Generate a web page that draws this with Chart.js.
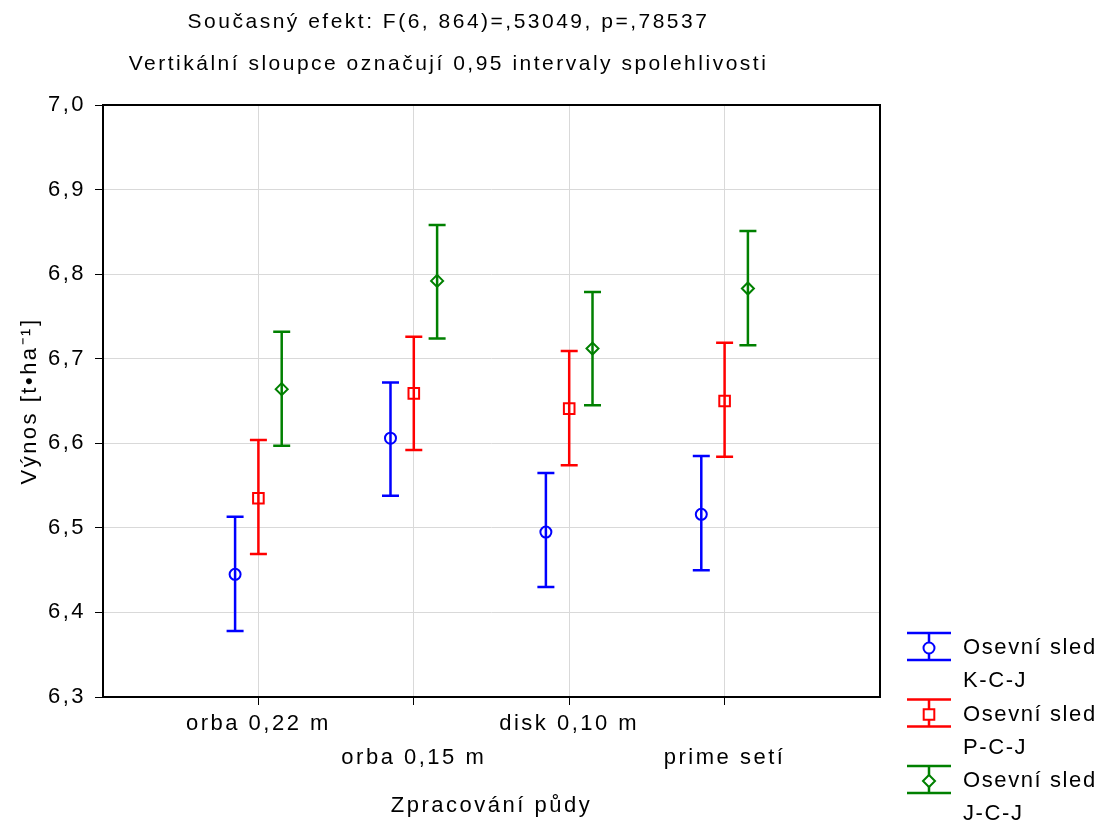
<!DOCTYPE html>
<html>
<head>
<meta charset="utf-8">
<script src="https://cdn.jsdelivr.net/npm/chart.js@4/dist/chart.umd.min.js"></script>
<style>
  html, body { margin: 0; background: #fff; }
</style>
</head>
<body>
<canvas id="myChart" width="1100" height="823"></canvas>
<script>
// data
const categories = ["orba 0,22 m", "orba 0,15 m", "disk 0,10 m", "prime setí"];
const seriesNames = ["K-C-J", "P-C-J", "J-C-J"];
// means and 0.95 interval ends
const kcjMean = [6.445, 6.606, 6.495, 6.516];
const kcjLow = [6.378, 6.538, 6.430, 6.450];
const kcjHigh = [6.513, 6.672, 6.565, 6.585];
const pcjMean = [6.535, 6.659, 6.641, 6.650];
const pcjLow = [6.469, 6.592, 6.574, 6.584];
const pcjHigh = [6.604, 6.726, 6.709, 6.719];
const jcjMean = [6.664, 6.792, 6.712, 6.783];
const jcjLow = [6.597, 6.724, 6.645, 6.716];
const jcjHigh = [6.732, 6.858, 6.779, 6.851];
const yMin = 6.3;
const yMax = 7.0;
const yStep = 0.1;

const FONT = "'Liberation Sans', Arial, sans-serif";

// build one dataset per crop sequence
function makeSet(name, means, low, high, color, style, radius, shift) {
  return {
    label: "Osevní sled " + name,
    data: means.map((m, i) => ({ x: i + 1 + shift, y: m })),
    low: low,
    high: high,
    borderColor: color,
    backgroundColor: "rgba(0,0,0,0)",
    pointStyle: style,
    pointRadius: radius,
    pointHoverRadius: radius,
    pointBorderWidth: 2,
    showLine: false,
  };
}

// letter spacing so the text widths come near the picture
const spacingPlugin = {
  id: "spacing",
  beforeLayout(chart) { chart.ctx.letterSpacing = "2.5px"; },
  beforeDraw(chart) { chart.ctx.letterSpacing = "2.5px"; },
};

// vertical interval bars with caps
const errorBars = {
  id: "errorBars",
  beforeDatasetsDraw(chart) {
    const ctx = chart.ctx;
    const yScale = chart.scales.y;
    chart.data.datasets.forEach((ds, di) => {
      const meta = chart.getDatasetMeta(di);
      ctx.save();
      ctx.strokeStyle = ds.borderColor;
      ctx.lineWidth = 2.5;
      meta.data.forEach((pt, i) => {
        const top = yScale.getPixelForValue(ds.high[i]);
        const bot = yScale.getPixelForValue(ds.low[i]);
        ctx.beginPath();
        ctx.moveTo(pt.x, top);
        ctx.lineTo(pt.x, bot);
        ctx.moveTo(pt.x - 8.5, top);
        ctx.lineTo(pt.x + 8.5, top);
        ctx.moveTo(pt.x - 8.5, bot);
        ctx.lineTo(pt.x + 8.5, bot);
        ctx.stroke();
      });
      ctx.restore();
    });
  },
};

// black frame round the plot and the legend on the right
const framePlugin = {
  id: "frame",
  afterDraw(chart) {
    const ctx = chart.ctx;
    const a = chart.chartArea;
    ctx.save();
    ctx.strokeStyle = "#000";
    ctx.lineWidth = 2;
    ctx.strokeRect(a.left, a.top, a.right - a.left, a.bottom - a.top);

    // legend
    ctx.letterSpacing = "1.6px";
    ctx.font = "22px " + FONT;
    ctx.textBaseline = "middle";
    ctx.textAlign = "left";
    const iconX = a.right + 49;
    chart.data.datasets.forEach((ds, i) => {
      const cy = a.bottom - 49 + i * 66.5;
      ctx.strokeStyle = ds.borderColor;
      ctx.lineWidth = 2.5;
      ctx.beginPath();
      ctx.moveTo(iconX - 22, cy - 15);
      ctx.lineTo(iconX + 22, cy - 15);
      ctx.moveTo(iconX - 22, cy + 12);
      ctx.lineTo(iconX + 22, cy + 12);
      ctx.moveTo(iconX, cy - 15);
      ctx.lineTo(iconX, cy + 12);
      ctx.stroke();
      ctx.fillStyle = "#fff";
      ctx.lineWidth = 2;
      Chart.helpers.drawPoint(ctx, {
        pointStyle: ds.pointStyle,
        radius: ds.pointRadius,
        borderWidth: 2,
      }, iconX, cy);
      ctx.fillStyle = "#000";
      const parts = ds.label.split(" ");
      ctx.fillText(parts.slice(0, 2).join(" "), a.right + 83, cy);
      ctx.fillText(parts.slice(2).join(" "), a.right + 83, cy + 33);
    });
    ctx.restore();
  },
};

const ctx = document.getElementById("myChart").getContext("2d");
const myChart = new Chart(ctx, {
  type: "scatter",
  data: {
    datasets: [
      makeSet(seriesNames[0], kcjMean, kcjLow, kcjHigh, "#0000ff", "circle", 5.5, -0.15),
      makeSet(seriesNames[1], pcjMean, pcjLow, pcjHigh, "#ff0000", "rect", 7.5, 0),
      makeSet(seriesNames[2], jcjMean, jcjLow, jcjHigh, "#008000", "rectRot", 6, 0.15),
    ],
  },
  options: {
    responsive: false,
    animation: false,
    devicePixelRatio: 1,
    layout: { padding: { left: 17, right: 220, top: 0, bottom: 0 } },
    plugins: {
      legend: { display: false },
      tooltip: { enabled: false },
      title: {
        display: true,
        text: ["Současný efekt: F(6, 864)=,53049, p=,78537", "Vertikální sloupce označují 0,95 intervaly spolehlivosti"],
        color: "#000",
        font: { family: FONT, size: 21, weight: "normal", lineHeight: 2 },
        padding: { top: 1, bottom: 20 },
      },
    },
    scales: {
      x: {
        type: "linear",
        min: 0,
        max: categories.length + 1,
        afterBuildTicks(scale) {
          scale.ticks = categories.map((c, i) => ({ value: i + 1 }));
        },
        afterFit(scale) { scale.height = 126; },
        ticks: {
          color: "#000",
          autoSkip: false,
          maxRotation: 0,
          padding: 2,
          font: { family: FONT, size: 22, lineHeight: 1.55 },
          callback(value) {
            const i = Math.round(value) - 1;
            return i % 2 === 0 ? [categories[i]] : ["", categories[i]];
          },
        },
        grid: { color: "#d9d9d9", tickColor: "#000", tickLength: 8, lineWidth: 1 },
        border: { display: false },
        title: {
          display: true,
          text: "Zpracování půdy",
          color: "#000",
          font: { family: FONT, size: 22 },
          padding: { top: 12, bottom: 4 },
        },
      },
      y: {
        min: yMin,
        max: yMax,
        afterFit(scale) { scale.width = 86; },
        ticks: {
          stepSize: yStep,
          color: "#000",
          padding: 9,
          font: { family: FONT, size: 22 },
          callback: (v) => v.toFixed(1).replace(".", ","),
        },
        grid: { color: "#d9d9d9", tickColor: "#000", tickLength: 8, lineWidth: 1 },
        border: { display: false },
        title: {
          display: true,
          text: "Výnos [t•ha⁻¹]",
          color: "#000",
          font: { family: FONT, size: 22 },
          padding: { top: 0, bottom: 4 },
        },
      },
    },
  },
  plugins: [spacingPlugin, errorBars, framePlugin],
});
</script>
</body>
</html>
